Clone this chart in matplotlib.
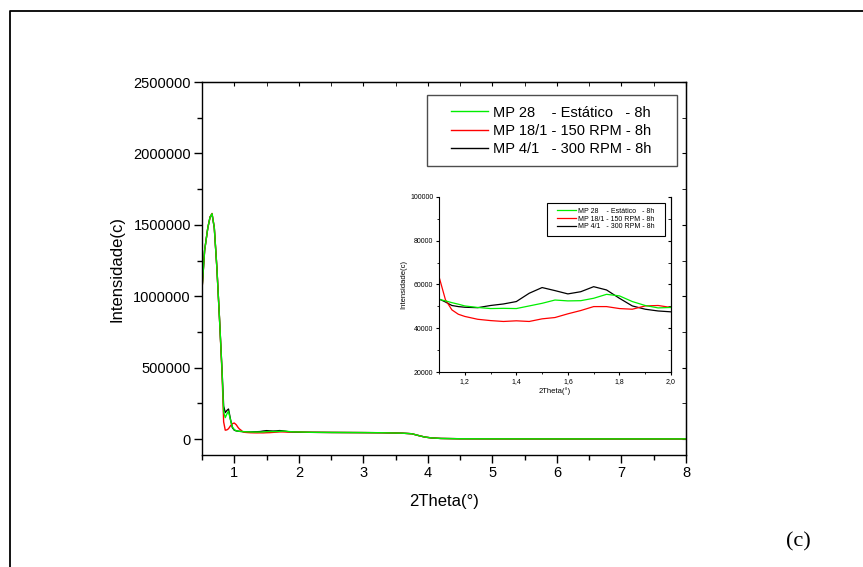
import numpy as np
import matplotlib
matplotlib.use("Agg")
import matplotlib.pyplot as plt
from matplotlib.ticker import MultipleLocator, FuncFormatter
from matplotlib.patches import Rectangle
from matplotlib.lines import Line2D

plt.rcParams['font.family'] = ['Liberation Sans', 'DejaVu Sans']

# data (2Theta in degrees, intensity in counts)
theta_early = [0.50, 0.54, 0.59, 0.625, 0.655, 0.69, 0.73, 0.77, 0.81, 0.835,
               0.86, 0.885, 0.91, 0.94, 0.97, 1.00, 1.03, 1.06, 1.08]
black_early = [1050000, 1320000, 1480000, 1555000, 1575000, 1480000, 1200000, 850000, 480000, 230000,
               185000, 200000, 210000, 140000, 80000, 62000, 57000, 55000, 54000]
green_early = [1050000, 1320000, 1480000, 1555000, 1578000, 1480000, 1200000, 850000, 480000, 190000,
               150000, 175000, 195000, 135000, 85000, 65000, 58000, 55000, 54000]
red_early = [1045000, 1320000, 1480000, 1555000, 1580000, 1480000, 1200000, 850000, 460000, 120000,
             62000, 64000, 72000, 92000, 108000, 112000, 100000, 80000, 70000]

theta_mid = [1.10, 1.125, 1.15, 1.175, 1.20, 1.25, 1.30, 1.35, 1.40, 1.45, 1.50, 1.55,
             1.60, 1.65, 1.70, 1.75, 1.80, 1.85, 1.90, 1.95, 2.00]
black_mid = [53400, 52000, 50400, 49900, 49600, 49400, 50400, 51100, 52200, 56000, 58600, 57200,
             55700, 56700, 59000, 57500, 53700, 50200, 48700, 47900, 47500]
green_mid = [53200, 52500, 51700, 51000, 50200, 49500, 49000, 49100, 49000, 50200, 51400, 52900,
             52500, 52600, 53700, 55500, 54800, 52200, 50400, 49300, 49500]
red_mid = [63600, 53000, 48400, 46400, 45400, 44100, 43500, 43100, 43400, 43100, 44300, 44900,
           46600, 48100, 49900, 49900, 49000, 48700, 50200, 50400, 49500]

theta_tail = [2.2, 2.5, 3.0, 3.3, 3.6, 3.75, 3.85, 3.95, 4.05, 4.2, 4.5, 5.0, 6.0, 7.0, 8.0]
int_tail = [47000, 46000, 45000, 44000, 41000, 37000, 25000, 14000, 8000, 4000, 2000, 1500, 1000, 1000, 1000]

labels = ["MP 28    - Estático   - 8h", "MP 18/1 - 150 RPM - 8h", "MP 4/1   - 300 RPM - 8h"]
colors = ["#00ee00", "#ff0000", "#000000"]

theta = np.concatenate([theta_early, theta_mid, theta_tail])
green = np.concatenate([green_early, green_mid, int_tail])
red = np.concatenate([red_early, red_mid, int_tail])
black = np.concatenate([black_early, black_mid, int_tail])

fig = plt.figure(figsize=(8.63, 5.67), dpi=100)

# outer frame of the original panel
fig.add_artist(Line2D([10/863, 10/863, 1], [0, 1-11/567, 1-11/567],
                      transform=fig.transFigure, color='k', lw=1.3))

ax = fig.add_axes([0.2341, 0.1975, 0.5608, 0.6578])
lb, = ax.plot(theta, black, color=colors[2], lw=1.0)
lr, = ax.plot(theta, red, color=colors[1], lw=1.0)
lg, = ax.plot(theta, green, color=colors[0], lw=1.0)
ax.set_xlim(0.5, 8)
ax.set_ylim(-112000, 2500000)
ax.xaxis.set_major_locator(MultipleLocator(1))
ax.xaxis.set_minor_locator(MultipleLocator(0.5))
ax.yaxis.set_major_locator(MultipleLocator(500000))
ax.yaxis.set_minor_locator(MultipleLocator(250000))
ax.yaxis.set_major_formatter(FuncFormatter(lambda v, p: "%d" % v))
ax.tick_params(which='both', direction='out', width=1.0, labelsize=10.5)
ax.tick_params(which='major', length=6, pad=2)
ax.tick_params(which='minor', length=3.5)
for s in ax.spines.values():
    s.set_linewidth(1.0)
ax.set_xlabel("2Theta(°)", fontsize=12, labelpad=10)
ax.set_ylabel("Intensidade(c)", fontsize=12, labelpad=6)

secx = ax.secondary_xaxis('top')
secx.xaxis.set_major_locator(MultipleLocator(1))
secx.xaxis.set_minor_locator(MultipleLocator(0.5))
secx.tick_params(which='both', direction='in', length=3, labeltop=False)
secy = ax.secondary_yaxis('right')
secy.yaxis.set_major_locator(MultipleLocator(500000))
secy.yaxis.set_minor_locator(MultipleLocator(250000))
secy.tick_params(which='both', direction='in', length=3, labelright=False)

ax.legend([lg, lr, lb], labels, loc='center', bbox_to_anchor=(0.722, 0.869),
          frameon=False, fontsize=10.5, handlelength=2.5, handletextpad=0.4,
          labelspacing=0.3)
ax.add_patch(Rectangle((0.465, 0.775), 0.516, 0.19, transform=ax.transAxes,
                       fill=False, ec='0.3', lw=1.0))

# inset zoom on 1.1 - 2.0
axi = fig.add_axes([0.5087, 0.3439, 0.2688, 0.3087])
ib, = axi.plot(theta, black, color=colors[2], lw=0.9)
ir, = axi.plot(theta, red, color=colors[1], lw=0.9)
ig, = axi.plot(theta, green, color=colors[0], lw=0.9)
axi.set_xlim(1.1, 2.0)
axi.set_ylim(20000, 100000)
axi.spines['top'].set_visible(False)
axi.xaxis.set_major_locator(MultipleLocator(0.2))
axi.xaxis.set_minor_locator(MultipleLocator(0.1))
axi.xaxis.set_major_formatter(FuncFormatter(lambda v, p: ("%.1f" % v).replace('.', ',')))
axi.yaxis.set_major_locator(MultipleLocator(20000))
axi.yaxis.set_minor_locator(MultipleLocator(10000))
axi.yaxis.set_major_formatter(FuncFormatter(lambda v, p: "%d" % v))
axi.tick_params(which='both', direction='out', labelsize=5, pad=1.5)
axi.tick_params(which='major', length=2.5)
axi.tick_params(which='minor', length=1.5)
axi.set_xlabel("2Theta(°)", fontsize=5.5, labelpad=2)
axi.set_ylabel("Intensidade(c)", fontsize=5.5, labelpad=2)
isy = axi.secondary_yaxis('right')
isy.yaxis.set_major_locator(MultipleLocator(20000))
isy.yaxis.set_minor_locator(MultipleLocator(10000))
isy.tick_params(which='both', direction='in', length=2, labelright=False)

axi.legend([ig, ir, ib], labels, loc='center', bbox_to_anchor=(0.718, 0.874),
           frameon=False, fontsize=5, handlelength=2.7, handletextpad=0.3,
           labelspacing=0.1)
axi.add_patch(Rectangle((0.464, 0.777), 0.51, 0.187, transform=axi.transAxes,
                        fill=False, ec='k', lw=0.8))

fig.text(798/863, 1-542/567, "(c)", family='Liberation Serif', fontsize=16,
         ha='center', va='center')

fig.savefig("out.png", dpi=100)
